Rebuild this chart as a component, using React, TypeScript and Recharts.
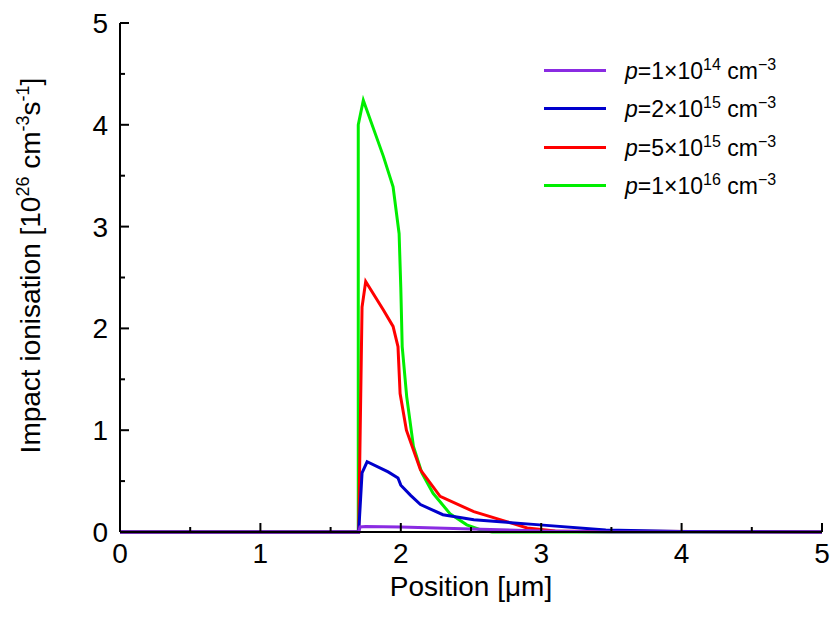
import React from "react";
import { LineChart, Line, XAxis, YAxis } from "recharts";

const purpleX = [0, 1.70, 1.71, 1.75, 2.0, 2.5, 3.0, 3.5, 5];
const purpleY = [0, 0, 0.05, 0.055, 0.05, 0.03, 0.01, 0.0, 0];
const blueX = [0, 1.70, 1.724, 1.76, 1.91, 1.98, 2.0, 2.07, 2.14, 2.3, 2.52, 2.99, 3.46, 4.0, 5];
const blueY = [0, 0, 0.58, 0.69, 0.59, 0.53, 0.46, 0.36, 0.27, 0.17, 0.12, 0.07, 0.02, 0.005, 0];
const redX = [0, 1.70, 1.724, 1.75, 1.876, 1.945, 1.98, 1.995, 2.04, 2.14, 2.28, 2.52, 2.76, 2.9, 3.1, 5];
const redY = [0, 0, 2.21, 2.46, 2.18, 2.02, 1.82, 1.36, 1.0, 0.61, 0.35, 0.2, 0.1, 0.04, 0.01, 0];
const greenX = [0, 1.697, 1.697, 1.733, 1.876, 1.945, 1.988, 2.0, 2.01, 2.042, 2.09, 2.15, 2.23, 2.35, 2.47, 2.57, 2.65, 5];
const greenY = [0, 0, 4.0, 4.24, 3.69, 3.39, 2.93, 2.4, 1.82, 1.33, 0.84, 0.58, 0.38, 0.18, 0.07, 0.02, 0, 0];

const xTicks = [0, 0.5, 1, 1.5, 2, 2.5, 3, 3.5, 4, 4.5, 5];
const yTicks = [0, 0.5, 1, 1.5, 2, 2.5, 3, 3.5, 4, 4.5, 5];

const mk = (xs: number[], ys: number[]) => xs.map((x, i) => ({ x, y: ys[i] }));

const series = [
  { name: "green", exp: "16", mant: "1", color: "#00ee00", data: mk(greenX, greenY) },
  { name: "red", exp: "15", mant: "5", color: "#ff0000", data: mk(redX, redY) },
  { name: "blue", exp: "15", mant: "2", color: "#0000cc", data: mk(blueX, blueY) },
  { name: "purple", exp: "14", mant: "1", color: "#8a2be2", data: mk(purpleX, purpleY) },
];
const legendOrder = ["purple", "blue", "red", "green"];

const font = "'Liberation Sans', Arial, sans-serif";

const XTick = (p: any) => {
  const v = p.payload.value;
  const major = Number.isInteger(v);
  return (
    <g>
      <line x1={p.x} x2={p.x} y1={p.y} y2={p.y - (major ? 9 : 5)} stroke="#000" strokeWidth={2} />
      {major && (
        <text x={p.x} y={p.y + 31} textAnchor="middle" fontSize={28} fontFamily={font} fill="#000">
          {v}
        </text>
      )}
    </g>
  );
};

const YTick = (p: any) => {
  const v = p.payload.value;
  const major = Number.isInteger(v);
  return (
    <g>
      <line x1={p.x} x2={p.x + (major ? 9 : 5)} y1={p.y} y2={p.y} stroke="#000" strokeWidth={2} />
      {major && (
        <text x={p.x - 12} y={p.y + 10} textAnchor="end" fontSize={28} fontFamily={font} fill="#000">
          {v}
        </text>
      )}
    </g>
  );
};

export default function App() {
  return (
    <div style={{ width: 830, height: 620, position: "relative" }}>
      <LineChart width={830} height={620} margin={{ top: 15, right: 16, left: 42, bottom: 36 }}>
        <XAxis
          type="number"
          dataKey="x"
          domain={[0, 5]}
          ticks={xTicks}
          interval={0}
          tickSize={0}
          tickMargin={0}
          tickLine={false}
          tick={<XTick />}
          stroke="#000"
          strokeWidth={2}
          height={60}
          allowDuplicatedCategory={false}
          label={{ value: "Position [μm]", position: "insideBottom", offset: -4, fontSize: 28, fontFamily: font, fill: "#000" }}
        />
        <YAxis
          type="number"
          dataKey="y"
          domain={[0, 5]}
          ticks={yTicks}
          interval={0}
          tickSize={0}
          tickMargin={0}
          tickLine={false}
          tick={<YTick />}
          stroke="#000"
          strokeWidth={2}
          width={70}
          label={(props: any) => {
            const vb = props.viewBox;
            const cx = 32;
            const cy = vb.y + vb.height / 2 - 12;
            return (
              <text
                x={cx}
                y={cy}
                transform={`rotate(-90 ${cx} ${cy})`}
                textAnchor="middle"
                fontSize={28}
                fontFamily={font}
                fill="#000"
              >
                Impact ionisation [10<tspan dy={-11} fontSize={18}>26</tspan>
                <tspan dy={11}> cm</tspan>
                <tspan dy={-11} fontSize={18}>-3</tspan>
                <tspan dy={11}>s</tspan>
                <tspan dy={-11} fontSize={18}>-1</tspan>
                <tspan dy={11}>]</tspan>
              </text>
            );
          }}
        />
        {series.map((s) => (
          <Line
            key={s.name}
            data={s.data}
            dataKey="y"
            type="linear"
            stroke={s.color}
            strokeWidth={3}
            dot={false}
            isAnimationActive={false}
            legendType="none"
          />
        ))}
      </LineChart>
      <div style={{ position: "absolute", top: 43, left: 536, fontFamily: font, fontSize: 23 }}>
        {legendOrder.map((n) => {
          const s = series.find((q) => q.name === n)!;
          return (
            <div key={n} style={{ display: "flex", alignItems: "center", height: 38.5 }}>
              <div style={{ width: 62, height: 3, background: s.color, marginRight: 19 }} />
              <span>
                <i>p</i>={s.mant}×10<sup style={{ fontSize: 16 }}>{s.exp}</sup> cm<sup style={{ fontSize: 16 }}>−3</sup>
              </span>
            </div>
          );
        })}
      </div>
    </div>
  );
}
